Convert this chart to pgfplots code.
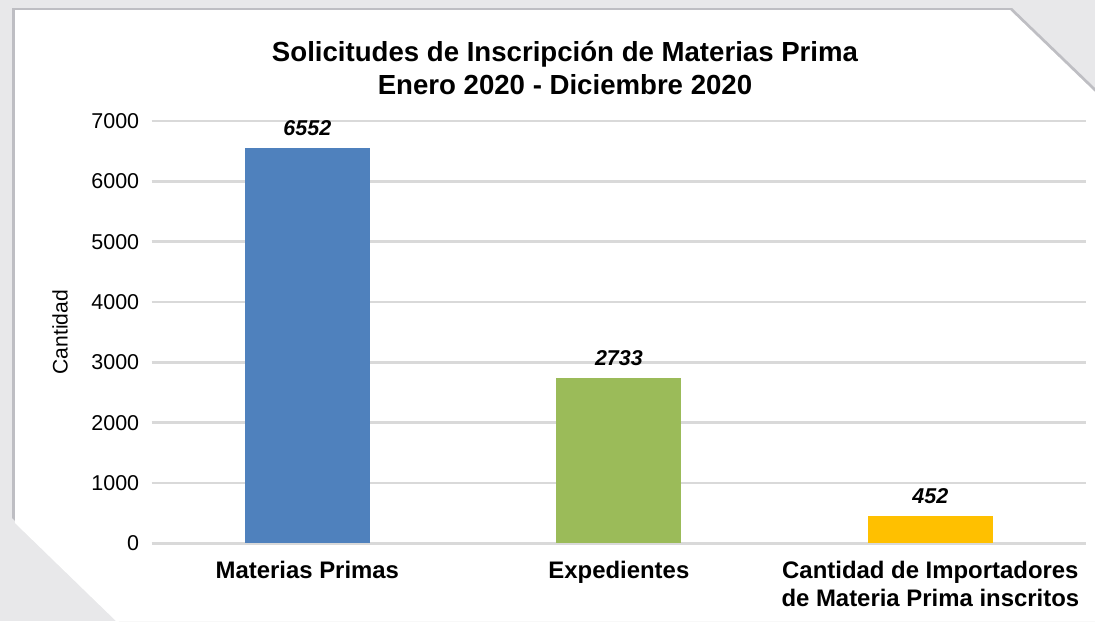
\documentclass[border=0pt]{standalone}
\usepackage{fontspec}
\setmainfont{Liberation Sans}
\usepackage{pgfplots}
\pgfplotsset{compat=1.18}
\definecolor{barblue}{RGB}{79,129,189}
\definecolor{bargreen}{RGB}{155,187,89}
\definecolor{baryellow}{RGB}{255,192,0}
\definecolor{gridgray}{RGB}{217,217,217}
\definecolor{bggray}{RGB}{232,232,234}
\definecolor{shadow}{RGB}{190,190,195}
\begin{document}
\begin{tikzpicture}
% background card, 1 unit = 1 px of the reference
\begin{scope}[x=0.01cm,y=-0.01cm]
\useasboundingbox (0,0) rectangle (1095,621);
\fill[bggray] (0,0) rectangle (1095,621);
\fill[shadow] (12,8) -- (1012,8) -- (1095,88) -- (1095,621) -- (119,621) -- (12,518) -- cycle;
\fill[white] (15,10) -- (1010,10) -- (1095,92) -- (1095,621) -- (116,621) -- (15,523) -- cycle;
\node[font=\fontsize{7.85pt}{9.4pt}\selectfont\bfseries,align=center] at (565,68)
  {Solicitudes de Inscripción de Materias Prima\\Enero 2020 - Diciembre 2020};
\end{scope}
\begin{axis}[
  at={(1.515cm,-5.43cm)}, anchor=south west,
  scale only axis, width=9.34cm, height=4.22cm,
  xmin=-0.5, xmax=2.5, ymin=0, ymax=7000,
  ybar, bar width=1.25cm,
  xtick={0,1,2},
  xticklabels={Materias Primas,Expedientes,{Cantidad de Importadores\\de Materia Prima inscritos}},
  xticklabel style={font=\fontsize{6.8pt}{8pt}\selectfont\bfseries,align=center,anchor=north,yshift=-0.05cm},
  ytick={0,1000,...,7000},
  yticklabel style={font=\fontsize{6.1pt}{7pt}\selectfont},
  /pgf/number format/assume math mode=true,
  /pgf/number format/set thousands separator={},
  major tick length=0pt,
  ymajorgrids, grid style={gridgray,line width=0.7pt},
  axis line style={draw=none},
  ylabel={Cantidad},
  ylabel style={at={(axis description cs:-0.098,0.5)},anchor=center,font=\fontsize{6pt}{7pt}\selectfont},
  nodes near coords,
  every node near coord/.append style={font=\fontsize{6.1pt}{7pt}\selectfont\bfseries\itshape,/pgf/number format/assume math mode=true},
]
\addplot[fill=barblue,draw=none,bar shift=0pt] coordinates {(0,6552)};
\addplot[fill=bargreen,draw=none,bar shift=0pt] coordinates {(1,2733)};
\addplot[fill=baryellow,draw=none,bar shift=0pt] coordinates {(2,452)};
\end{axis}
\end{tikzpicture}
\end{document}
